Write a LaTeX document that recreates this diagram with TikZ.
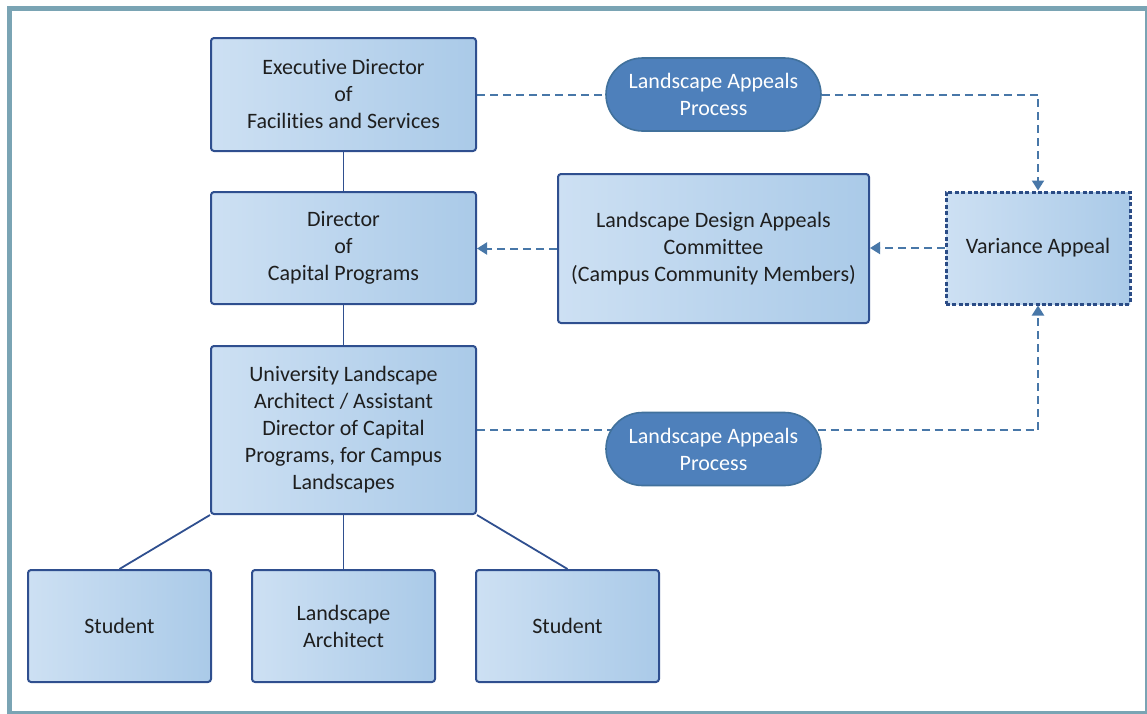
\documentclass[tikz,border=0pt]{standalone}
\usepackage{fontspec}
\setmainfont{Carlito}[Ligatures=NoCommon]
\usetikzlibrary{arrows.meta,backgrounds,shapes.misc}

\definecolor{boxlight}{HTML}{CDE0F3}
\definecolor{boxdark}{HTML}{AACAE8}
\definecolor{boxline}{HTML}{2F4F8F}
\definecolor{dashblue}{HTML}{4877A8}
\definecolor{pillfill}{HTML}{4E80BB}
\definecolor{pillline}{HTML}{41719C}
\definecolor{framecol}{HTML}{7AA4B4}
\definecolor{varline}{HTML}{2B4C86}
\definecolor{textgray}{HTML}{1E1E1E}

\tikzset{
  unitbox/.style={draw=boxline, line width=1pt, rounded corners=1.5pt,
    left color=boxlight, right color=boxdark, align=center, inner sep=0pt,
    text=textgray, font=\fontsize{11}{13.5}\selectfont},
  appealpill/.style={rounded rectangle, draw=pillline, line width=0.8pt,
    fill=pillfill, text=white, align=center, inner sep=0pt,
    minimum width=107.5pt, minimum height=36.5pt,
    font=\fontsize{11}{13.5}\selectfont},
  appeal/.style={draw=dashblue, line width=1pt, dash pattern=on 4pt off 2.5pt},
  appealarrow/.style={appeal, -{Triangle[width=6pt,length=5pt]}, dashblue},
  tree/.style={draw=boxline, line width=0.9pt},
}

\begin{document}
\begin{tikzpicture}[x=0.5pt,y=-0.5pt]
\useasboundingbox (0,0) rectangle (1147,713);

% outer frame
\draw[framecol, line width=2.5pt] (9.5,8.5) rectangle (1147,713);

% management line
\node[unitbox, minimum width=132.5pt, minimum height=56.5pt] (exec) at (343.5,94.5)
  {Executive Director\\of\\Facilities and Services};
\node[unitbox, minimum width=132.5pt, minimum height=56pt] (dir) at (343.5,248)
  {Director\\of\\Capital Programs};
\node[unitbox, minimum width=132.5pt, minimum height=84pt] (ula) at (343.5,430)
  {University Landscape\\Architect / Assistant\\Director of Capital\\Programs, for Campus\\Landscapes};

% staff
\node[unitbox, minimum width=91.5pt, minimum height=56pt] (student1) at (119.5,626) {Student};
\node[unitbox, minimum width=91.5pt, minimum height=56pt] (larch) at (343.5,626) {Landscape\\Architect};
\node[unitbox, minimum width=91.5pt, minimum height=56pt] (student2) at (567.5,626) {Student};

% appeals
\node[unitbox, minimum width=155.5pt, minimum height=74.5pt] (committee) at (713.5,248.5)
  {Landscape Design Appeals\\Committee\\(Campus Community Members)};
\node[unitbox, draw=varline, line width=1.5pt, dash pattern=on 2pt off 1.2pt,
  rounded corners=0pt, minimum width=92pt, minimum height=56pt] (variance) at (1038,248)
  {Variance Appeal};
\node[appealpill] (pilltop) at (713.5,94.5) {Landscape Appeals\\Process};
\node[appealpill] (pillbot) at (713.5,449) {Landscape Appeals\\Process};

% connectors
\begin{scope}[on background layer]
\draw[tree] (exec) -- (dir);
\draw[tree] (dir) -- (ula);
\draw[tree] (ula.south west) -- (student1.north);
\draw[tree] (ula.south) -- (larch.north);
\draw[tree] (ula.south east) -- (student2.north);

\draw[appeal] (exec.east) -- (pilltop);
\draw[appealarrow] (pilltop) -| (variance.north);
\draw[appeal] (ula.east) -- (ula.east -| pillbot);
\draw[appealarrow] (ula.east -| pillbot) -| (variance.south);
\end{scope}
\draw[appealarrow] (variance.west) -- (variance.west -| committee.east);
\draw[appealarrow] (committee.west) -- (committee.west -| dir.east);
\end{tikzpicture}
\end{document}
